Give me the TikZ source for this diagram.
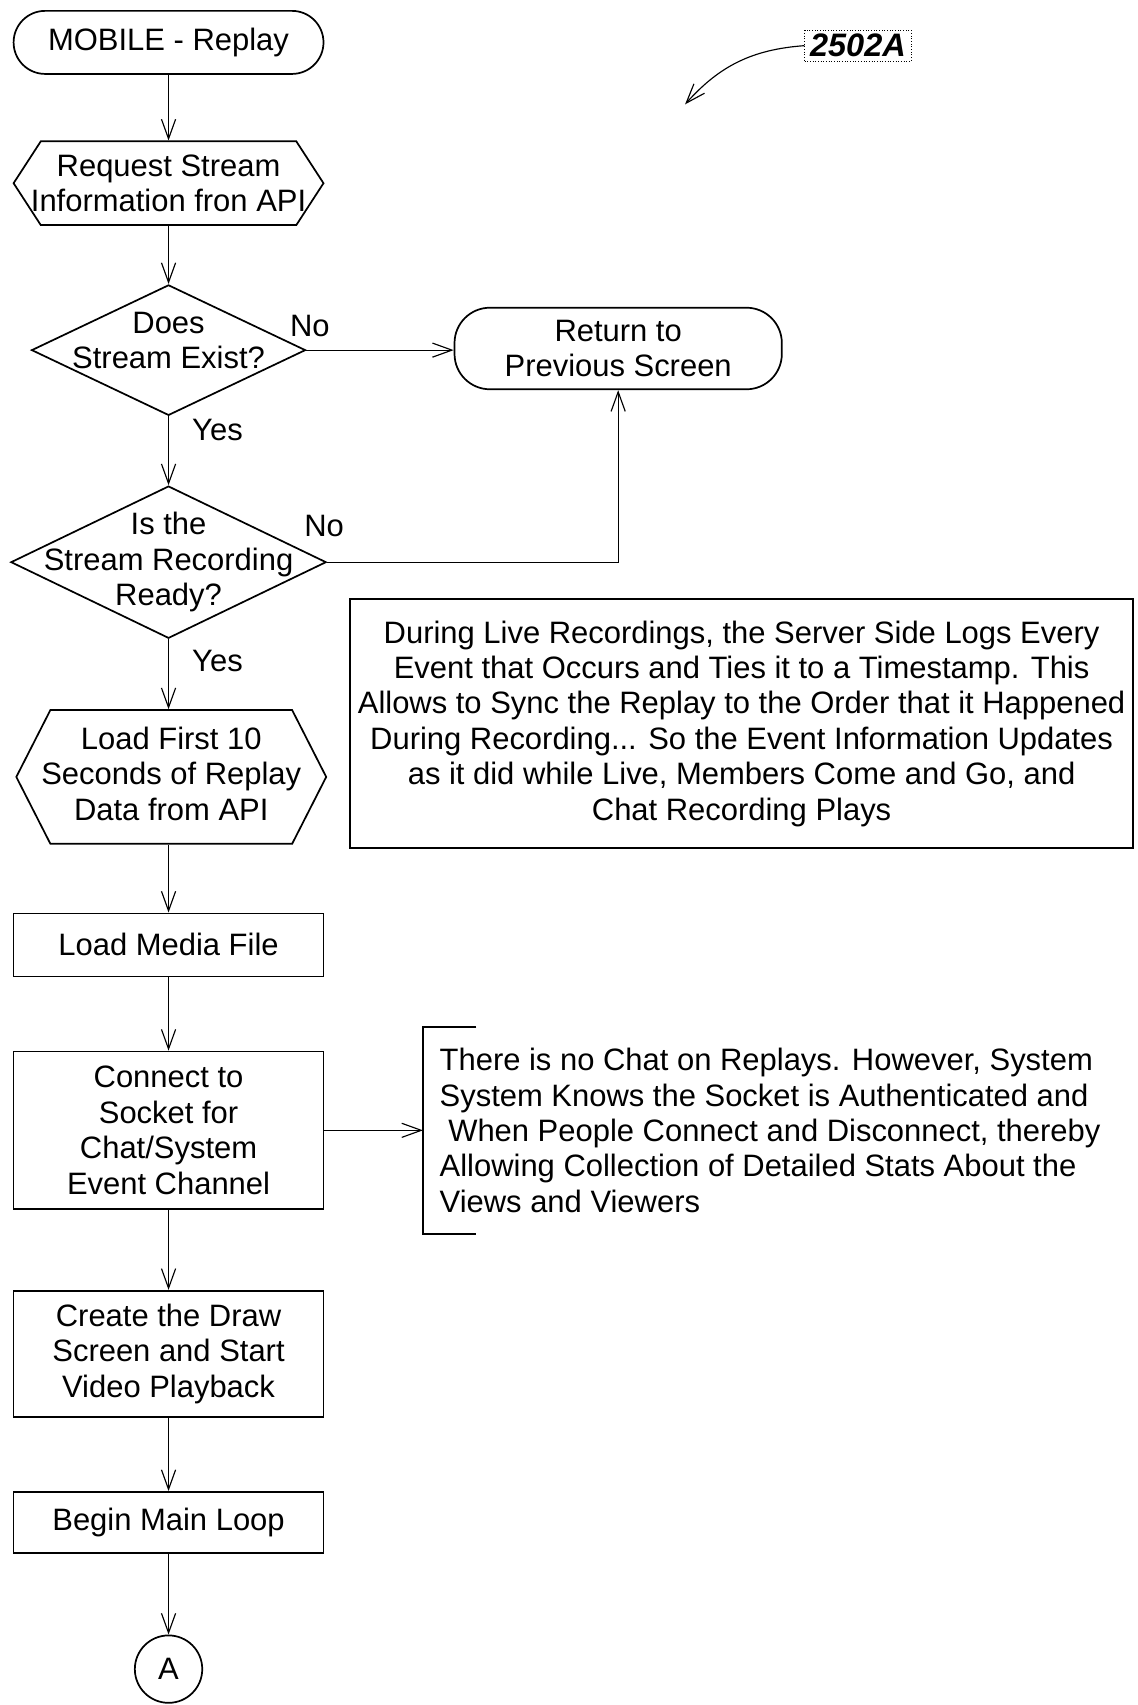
\documentclass[tikz,border=0pt]{standalone}
\usepackage{fontspec}
\setmainfont{Liberation Sans}
\usetikzlibrary{positioning,calc,arrows.meta,shapes.geometric,shapes.symbols}

\begin{document}
\begin{tikzpicture}[
    font=\fontsize{16.2}{18.5}\selectfont,
    >={Straight Barb[length=3.6mm,width=2.6mm]},
    box/.style={
        draw,
        line width=0.9pt,
        align=center,
        minimum width=5.7cm
    },
    terminal/.style={
        box,
        rounded corners=5.8mm,
        minimum height=1.16cm
    },
    io/.style={
        draw,
        line width=0.9pt,
        shape=signal,
        signal to=west and east,
        inner sep=0pt,
        minimum width=5.7cm
    },
    decision/.style={
        diamond,
        draw,
        line width=0.9pt,
        inner sep=0pt
    },
    arrow/.style={
        ->,
        line width=0.6pt
    }
]
\useasboundingbox (0,0) rectangle (20.92,-31.36);

\node[terminal] (mobile) at (3.1,-0.78) {MOBILE - Replay};
\node[io, signal pointer angle=114, minimum height=1.54cm,
      label={[align=center]center:Request Stream\\Information fron API}] (request) at (3.1,-3.37) {};

\node[decision, minimum width=5.04cm, minimum height=2.4cm,
      label={[align=center, yshift=0.18cm]center:Does\\Stream Exist?}] (exist) at (3.1,-6.44) {};
\node[terminal, rounded corners=6.5mm, minimum width=6.02cm, minimum height=1.5cm] (ret) at (11.37,-6.41) {Return to\\Previous Screen};

\node[decision, minimum width=5.8cm, minimum height=2.8cm,
      label={[align=center]center:Is the\\Stream Recording\\Ready?}] (ready) at (3.1,-10.34) {};

\node[io, signal pointer angle=126, minimum height=2.46cm,
      label={[align=center, yshift=0.06cm]center:Load First 10\\Seconds of Replay\\Data from API}] (first) at (3.15,-14.29) {};

\node[draw, line width=0.9pt, align=center, minimum width=14.4cm, minimum height=4.58cm] (note) at (13.64,-13.31)
    {During Live Recordings, the Server Side Logs Every\\
     Event that Occurs and Ties it to a Timestamp. This\\
     Allows to Sync the Replay to the Order that it Happened\\
     During Recording... So the Event Information Updates\\
     as it did while Live, Members Come and Go, and\\
     Chat Recording Plays};

\node[box, minimum height=1.16cm] (media) at (3.1,-17.38) {Load Media File};
\node[box, minimum height=2.9cm] (connect) at (3.1,-20.79) {Connect to\\Socket for\\Chat/System\\Event Channel};
\node[align=left, anchor=west, inner xsep=0.3cm, minimum height=3.8cm] (stats) at (7.78,-20.79)
    {There is no Chat on Replays. However, System\\
     System Knows the Socket is Authenticated and\\
     \ When People Connect and Disconnect, thereby\\
     Allowing Collection of Detailed Stats About the\\
     Views and Viewers};
\node[box, minimum height=2.32cm] (create) at (3.1,-24.9) {Create the Draw\\Screen and Start\\Video Playback};
\node[box, minimum height=1.12cm] (loop) at (3.1,-28.0) {Begin Main Loop};
\node[circle, draw, line width=0.9pt, minimum size=1.24cm, inner sep=0pt] (conA) at (3.1,-30.7) {A};

% figure tag
\node[draw, densely dotted, thin, font=\bfseries\itshape\fontsize{17}{20}\selectfont,
      minimum width=1.96cm, minimum height=0.56cm, inner sep=1pt] (tag) at (15.78,-0.84) {2502A};
\coordinate (tagtip) at (12.6,-1.92);

% branch labels
\node at (5.7,-6.0) {No};
\node at (4.0,-7.9) {Yes};
\node at (5.96,-9.68) {No};
\node at (4.0,-12.16) {Yes};

\draw[arrow] (mobile) -- (request);
\draw[arrow] (request) -- (exist);
\draw[arrow] (exist.east) -- (exist.east -| ret.west);
\draw[arrow] (exist) -- (ready);
\draw[arrow] (ready.east) -| (ret.south);
\draw[arrow] (ready) -- (ready |- first.north);
\draw[arrow] (ready |- first.south) -- (media);
\draw[arrow] (media) -- (connect);
\draw[arrow] (connect.east) -- (stats.west);
\draw[arrow] (connect) -- (create);
\draw[arrow] (create) -- (loop);
\draw[arrow] (loop) -- (conA);

\draw[line width=0.9pt] ([xshift=0.98cm]stats.north west) -- (stats.north west)
    -- (stats.south west) -- ([xshift=0.98cm]stats.south west);

\draw[arrow] (tag.west) to[bend right=22] (tagtip);

\end{tikzpicture}
\end{document}
